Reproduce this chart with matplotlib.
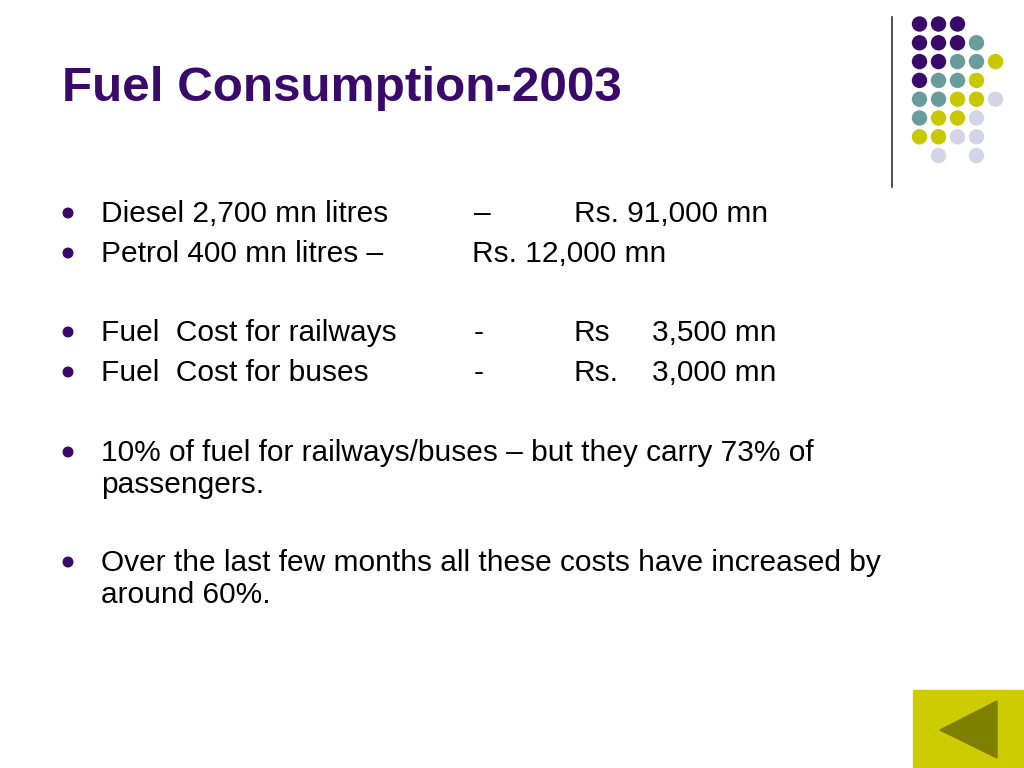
import matplotlib.pyplot as plt
from matplotlib.patches import Circle, Rectangle, Polygon

plt.rcParams['font.family'] = ['Liberation Sans', 'DejaVu Sans']

purple = '#3a0a6a'
teal = '#6a9c9c'
yellow = '#c8c800'
lav = '#d4d4e8'

title = "Fuel Consumption-2003"

# bullet lines: (first column, second column, third column, fourth column)
col1 = ["Diesel 2,700 mn litres", "Petrol 400 mn litres \u2013",
        "Fuel  Cost for railways", "Fuel  Cost for buses"]
col2 = ["\u2013", "Rs. 12,000 mn", "-", "-"]
col3 = ["Rs. 91,000 mn", "", "Rs", "Rs."]
col4 = ["", "", "3,500 mn", "3,000 mn"]
line_y = [222, 262, 341, 381]
col2_x = [474, 472, 474, 474]

para_text = [["10% of fuel for railways/buses \u2013 but they carry 73% of", "passengers."],
             ["Over the last few months all these costs have increased by", "around 60%."]]
para_y = [461, 571]

# dot grid, rows top to bottom: P purple, T teal, Y yellow, L lavender
dot_rows = ["PPP..", "PPPT.", "PPTTY", "PTTY.", "TTYYL", "TYYL.", "YYLL.", ".L.L."]
dot_colors = {'P': purple, 'T': teal, 'Y': yellow, 'L': lav}

fig = plt.figure(figsize=(10.24, 7.68), dpi=100)
ax = fig.add_axes([0, 0, 1, 1])
ax.set_xlim(0, 1024)
ax.set_ylim(768, 0)
ax.axis('off')

ax.text(62, 101, title, fontsize=35.6, fontweight='bold', color=purple, va='baseline')

fs = 21.5
for i, y in enumerate(line_y):
    ax.add_patch(Circle((68, y - 9), 4.8, color=purple))
    ax.text(101, y, col1[i], fontsize=fs, va='baseline')
    ax.text(col2_x[i], y, col2[i], fontsize=fs, va='baseline')
    ax.text(574, y, col3[i], fontsize=fs, va='baseline')
    ax.text(652, y, col4[i], fontsize=fs, va='baseline')

for lines, y in zip(para_text, para_y):
    ax.add_patch(Circle((68, y - 9), 4.8, color=purple))
    for k, ln in enumerate(lines):
        ax.text(101, y + k * 32, ln, fontsize=fs, va='baseline')

# decoration: vertical line and dots
ax.plot([892, 892], [17, 187], color='#333333', lw=1.2)
for r, row in enumerate(dot_rows):
    for c, ch in enumerate(row):
        if ch in dot_colors:
            ax.add_patch(Circle((919.5 + c * 19, 24 + r * 18.8), 7, color=dot_colors[ch]))

# back button
ax.add_patch(Rectangle((913, 690), 111, 78, color='#cccc00'))
ax.add_patch(Polygon([(940, 730), (997, 701), (997, 758)], closed=True, color='#7f7f00'))

fig.savefig('out.png', dpi=100)
